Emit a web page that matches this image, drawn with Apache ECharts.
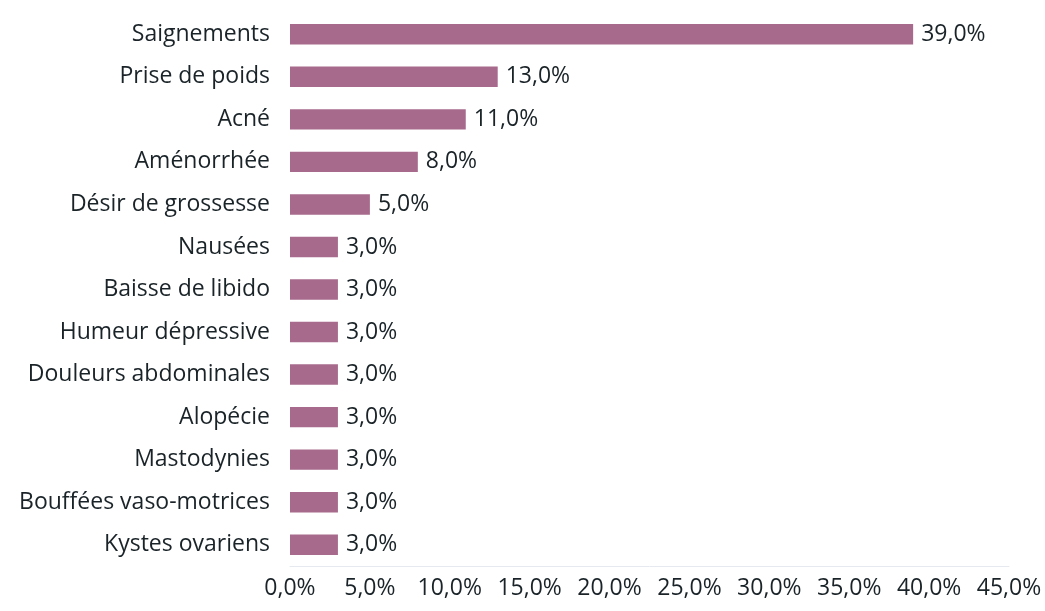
<!DOCTYPE html>
<html>
<head>
<meta charset="utf-8">
<script src="https://cdn.jsdelivr.net/npm/echarts@6/dist/echarts.min.js"></script>
<style>
  html, body { margin: 0; padding: 0; background: #fff; }
  #chart { width: 1045px; height: 611px; }
</style>
</head>
<body>
<div id="chart"></div>
<script>
const categories = [
  "Saignements", "Prise de poids", "Acné", "Aménorrhée", "Désir de grossesse",
  "Nausées", "Baisse de libido", "Humeur dépressive", "Douleurs abdominales",
  "Alopécie", "Mastodynies", "Bouffées vaso-motrices", "Kystes ovariens"
];
const values = [39, 13, 11, 8, 5, 3, 3, 3, 3, 3, 3, 3, 3];
const xMax = 45;
const xStep = 5;

// 39.0 -> "39,0%"
const pct = v => v.toFixed(1).replace(".", ",") + "%";

const chart = echarts.init(document.getElementById("chart"));

chart.setOption({
  animation: false,
  grid: {
    left: 290,
    right: 36,
    top: 13,
    bottom: 45,
    containLabel: false
  },
  xAxis: {
    type: "value",
    min: 0,
    max: xMax,
    interval: xStep,
    axisLine: { show: true, lineStyle: { color: "#e6eaf0", width: 1 } },
    axisTick: { show: false },
    splitLine: { show: false },
    axisLabel: {
      formatter: v => pct(v),
      color: "#1a2328",
      fontFamily: "Open Sans",
      fontSize: 23,
      margin: 11
    }
  },
  yAxis: {
    type: "category",
    data: categories,
    inverse: true,
    axisLine: { show: false },
    axisTick: { show: false },
    axisLabel: {
      color: "#1a2328",
      fontFamily: "Open Sans",
      fontSize: 23,
      margin: 20
    }
  },
  series: [
    {
      type: "bar",
      data: values,
      barWidth: "48%",
      itemStyle: { color: "#a86a8c" },
      label: {
        show: true,
        position: "right",
        distance: 8,
        formatter: p => pct(p.value),
        color: "#1a2328",
        fontFamily: "Open Sans",
        fontSize: 23
      }
    }
  ]
});
</script>
</body>
</html>
